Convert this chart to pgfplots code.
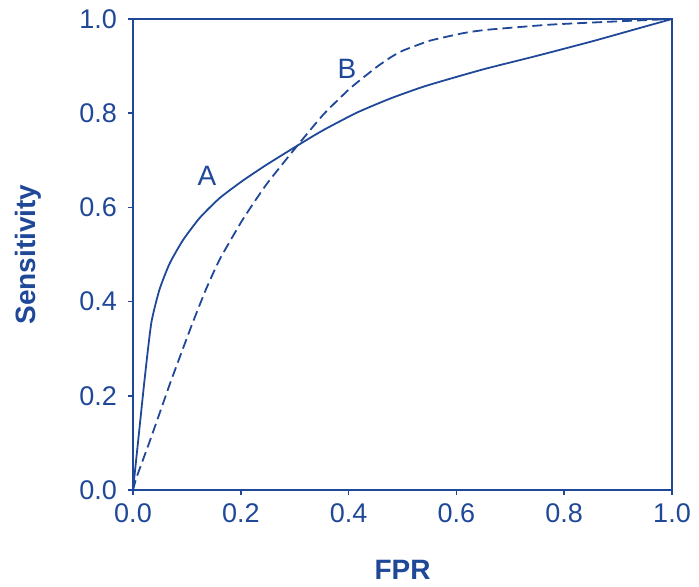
\documentclass[border=0pt]{standalone}
\usepackage{fontspec}
\setmainfont{Liberation Sans}
\usepackage{pgfplots}
\pgfplotsset{compat=1.18}
\definecolor{rocblue}{RGB}{32,72,152}

\begin{document}
\begin{tikzpicture}
\begin{axis}[
  scale only axis,
  width=269.5pt, height=235.5pt,
  xmin=0, xmax=1, ymin=0, ymax=1,
  axis line style={rocblue, line width=0.8pt},
  xtick={0,0.2,0.4,0.6,0.8,1}, ytick={0,0.2,0.4,0.6,0.8,1},
  xtick pos=left, ytick pos=left, tick align=outside,
  major tick length=2.5pt,
  tick style={rocblue, line width=0.8pt},
  /pgf/number format/.cd, fixed, fixed zerofill, precision=1, assume math mode=true,
  /pgfplots/.cd,
  tick label style={font=\fontsize{13.5}{15}\selectfont, text=rocblue},
  xticklabel style={yshift=-1pt},
  yticklabel style={xshift=-2pt},
  clip=false,
]
% curve A
\addplot[rocblue, line width=0.9pt, smooth, tension=0.35] coordinates {
  (0,0) (0.011,0.12) (0.022,0.24) (0.034,0.355) (0.049,0.425) (0.068,0.481)
  (0.093,0.531) (0.124,0.578) (0.161,0.620) (0.204,0.657) (0.247,0.690)
  (0.309,0.734) (0.353,0.764) (0.415,0.801) (0.477,0.831) (0.538,0.856)
  (0.600,0.877) (0.656,0.895) (0.750,0.922) (0.850,0.952) (0.925,0.976)
  (1,1)
};
% curve B
\addplot[rocblue, line width=0.9pt, dash pattern=on 5pt off 2.5pt, smooth, tension=0.3] coordinates {
  (0,0) (0.007,0.028) (0.030,0.100) (0.050,0.165) (0.069,0.227) (0.090,0.292)
  (0.111,0.356) (0.135,0.425) (0.161,0.490) (0.204,0.575) (0.247,0.648)
  (0.297,0.720) (0.353,0.797) (0.403,0.853) (0.452,0.898) (0.480,0.920)
  (0.501,0.933) (0.551,0.954) (0.613,0.970) (0.656,0.977) (0.774,0.988)
  (0.900,0.995) (1,1)
};
\node[text=rocblue, font=\fontsize{14}{16}\selectfont] at (axis cs:0.137,0.667) {A};
\node[text=rocblue, font=\fontsize{14}{16}\selectfont] at (axis cs:0.397,0.895) {B};
\end{axis}
\node[text=rocblue, font=\bfseries\fontsize{14}{16}\selectfont, rotate=90]
  at ([xshift=-52.5pt]current axis.west) {Sensitivity};
\node[text=rocblue, font=\bfseries\fontsize{14}{16}\selectfont]
  at ([yshift=-40pt]current axis.south) {FPR};
\path ([xshift=-66.5pt,yshift=-45.5pt]current axis.south west)
  rectangle ([xshift=13.5pt,yshift=9.5pt]current axis.north east);
\end{tikzpicture}
\end{document}
